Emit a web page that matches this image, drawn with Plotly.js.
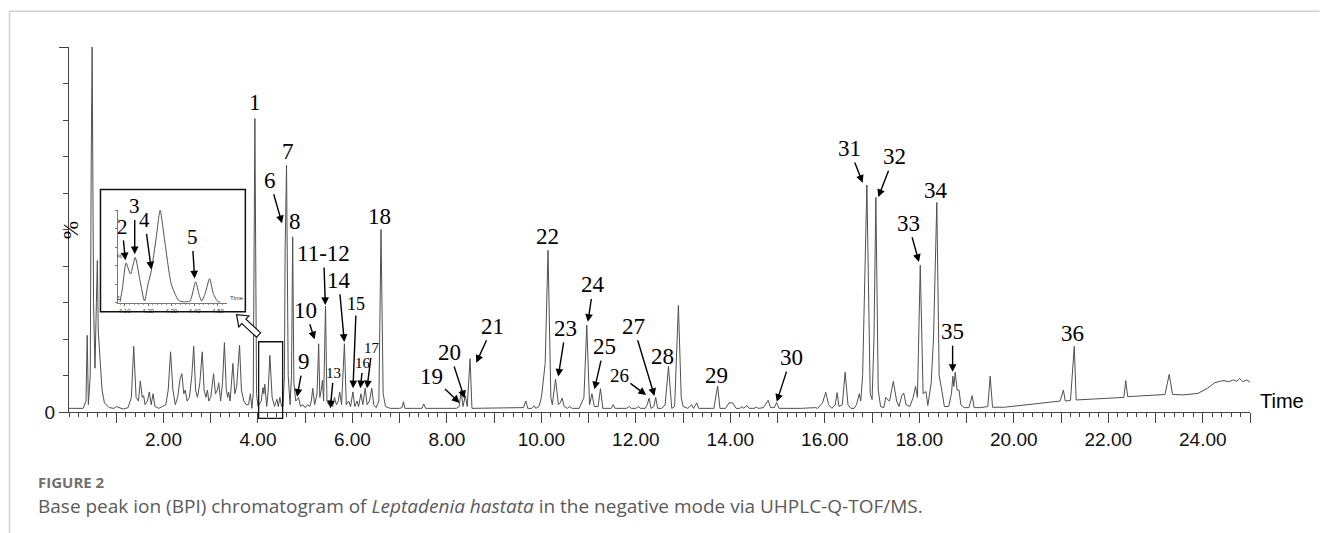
<!DOCTYPE html>
<html><head><meta charset="utf-8">
<script src="https://cdn.plot.ly/plotly-3.0.1.min.js"></script>
<style>html,body{margin:0;padding:0;background:#fff}#chart{width:1320px;height:533px}</style>
</head><body><div id="chart"></div>
<script>
// ---- data (time in min, intensity in %) ----
const retentionTime = [
0.00,0.30,0.36,0.385,0.41,0.45,0.47,0.49,0.52,0.55,0.58,0.60,0.62,0.64,0.66,0.70,0.75,0.85,0.95,1.00,1.05,1.15,1.25,
1.32,1.37,1.42,1.47,1.51,1.55,1.58,1.61,1.66,1.70,1.74,1.78,1.82,1.90,2.05,2.10,2.15,2.20,2.25,2.30,2.35,2.39,2.43,
2.46,2.50,2.55,2.60,2.64,2.68,2.72,2.77,2.82,2.86,2.90,2.93,2.96,3.00,3.06,3.10,3.14,3.17,3.21,3.25,3.29,3.33,3.36,
3.38,3.41,3.44,3.47,3.51,3.55,3.61,3.65,3.70,3.75,3.80,3.84,3.87,3.90,3.935,3.97,4.00,4.03,4.07,4.106,4.125,4.145,
4.185,4.214,4.252,4.30,4.35,4.40,4.43,4.464,4.50,4.53,4.56,4.575,4.605,4.64,4.68,4.71,4.735,4.76,4.80,4.86,4.90,
4.95,5.00,5.05,5.10,5.13,5.16,5.20,5.25,5.285,5.31,5.34,5.365,5.39,5.43,5.46,5.50,5.55,5.58,5.62,5.66,5.70,5.73,
5.77,5.83,5.87,5.92,5.96,6.01,6.05,6.10,6.13,6.18,6.22,6.27,6.31,6.36,6.41,6.45,6.50,6.56,6.605,6.65,6.70,6.80,
7.00,7.05,7.08,7.11,7.30,7.47,7.51,7.55,8.00,8.20,8.26,8.30,8.34,8.39,8.43,8.49,8.53,9.00,9.50,9.62,9.67,9.71,9.80,
9.85,9.88,9.95,10.00,10.03,10.08,10.14,10.20,10.23,10.30,10.36,10.40,10.44,10.48,10.55,10.60,10.65,10.80,10.90,
10.96,11.02,11.07,11.12,11.20,11.25,11.30,11.48,11.52,11.56,11.80,11.86,11.90,12.00,12.05,12.10,12.20,12.24,12.28,
12.32,12.38,12.42,12.46,12.55,12.62,12.69,12.76,12.82,12.90,12.96,13.00,13.10,13.18,13.22,13.29,13.33,13.65,13.73,
13.78,13.90,13.97,14.05,14.12,14.20,14.25,14.28,14.35,14.40,14.50,14.55,14.60,14.70,14.80,14.85,14.93,14.98,15.03,
15.50,15.80,15.85,15.95,16.02,16.08,16.15,16.22,16.26,16.30,16.37,16.43,16.49,16.55,16.62,16.67,16.73,16.76,16.80,
16.89,16.96,17.00,17.04,17.08,17.13,17.18,17.25,17.29,17.32,17.37,17.45,17.52,17.57,17.63,17.67,17.72,17.80,17.87,
17.92,17.96,18.02,18.08,18.14,18.18,18.25,18.30,18.37,18.42,18.48,18.53,18.62,18.68,18.71,18.73,18.76,18.80,18.84,
18.88,18.95,19.05,19.12,19.16,19.30,19.45,19.50,19.55,19.80,20.30,20.80,20.98,21.05,21.09,21.20,21.28,21.32,21.70,
22.00,22.33,22.37,22.41,22.80,23.20,23.29,23.36,23.60,23.90,24.10,24.25,24.36,24.45,24.55,24.65,24.72,24.78,24.85,
24.93,25.00
];
const basePeakIntensity = [
1.0,1.0,3,21,2,10,68,100,30,12,30,41.5,22,17,14,6,2.5,1.2,1.0,1.5,1.2,0.8,1.2,
4,18,4,3,8.5,4,4.5,2,3,5.5,2,5,1.5,1,2,6,16.5,6,2,4,9,10.5,5,
6,3,4,10,18,6,4,8,16.5,6,4,6,3,4,10.5,5,6,8,3,8,19,6,4,
5.5,3,8,13.3,5,7,18.3,6,3,2,2,5,1,5,80.4,5,1.5,2,3,6.7,5,7.6,
1.5,5.3,15.5,4,1.5,3.5,1.5,4.0,1.5,1.5,10,44,67.6,10,2,10,48,8,3,4,1.5,
2,1.2,2,1.5,3,6.5,2,5,18.7,4,6,8.7,3,29,3,2,3.5,1.5,4,2,3,5.5,
2,18.7,2,3,1.5,5.5,1.5,3,1.5,5,2,6.5,2,3,6.5,2,1.2,3,50,5,1.5,1,
1,1.2,2.8,1,1,1,2.2,1,1,1,1.5,6,1.5,4.5,1.5,14.6,1,1,1,1.2,3,1,1,
1.7,1,1.5,4,7.8,13.3,44.3,4,2,9,2,2.5,3.8,1.5,1,1.5,1,1,4,
23.8,2,5,1.5,1.5,6.4,1,1,2,1,1,1.5,1,1,1.5,1,1,2,3.8,
1,1.5,4,1,1,2,12.5,1,1.5,29.2,4,1.5,1,2,1,2.5,1,1,7.1,
1,1,2.5,2.5,1,1,1.5,1,1.8,1,1,1.3,1,1.2,3.2,1.2,1.2,2.6,1,
1,1.2,1,2.5,5.4,2,1,2,5.3,1.5,2,10.9,2,1,1,2,5,3,10,
62.2,5,3.4,20,58.8,6,1.5,1.2,4,3.5,3,8.4,3,1.5,4.5,5.2,2,1.5,4,
7,4,40.2,5,5.6,1.8,7.8,20,57.4,10,5.6,1.5,1.5,5,9.8,7,10.9,6,6,
2,1.2,1.2,4.5,1.2,1.2,1.5,9.8,1.3,1.3,2,2.6,3,6,3,3.2,18,3.3,3.6,
3.8,4,8.6,4.2,4.5,4.8,10.3,4.8,4.7,5.1,6.5,8.0,8.4,8.6,8.3,8.8,8.4,9.2,8.3,
8.8,8.2
];
// inset: zoom of 4.0-4.5 min (relative %)
const insetTime = [4.08,4.09,4.106,4.125,4.145,4.165,4.185,4.20,4.214,4.235,4.252,4.27,4.30,4.33,4.35,4.38,4.404,4.42,4.43,4.445,4.464,4.48,4.50,4.51];
const insetIntensity = [1,15,43,31,49,25,2,20,34.5,70,100,70,20,3,1,2,22.7,8,2,10,26,10,1,1];
// axis ticks
const majorTickVals = [1,2,3,4,5,6,7,8,9,10,11,12,13,14,15,16,17,18,19,20,21,22,23,24,25];
const majorTickText = ['','2.00','','4.00','','6.00','','8.00','','10.00','','12.00','','14.00','','16.00','','18.00','','20.00','','22.00','','24.00',''];
const insetTickVals = [4.1,4.2,4.3,4.4,4.5];
const insetTickText = ['4.10','4.20','4.30','4.40','4.50'];

// ---- layout helpers (pixel -> paper) ----
const L=68.5, R=1250.5, T=46.7, B=412;
const pxX = p => (p-L)/(R-L);
const pxY = p => (B-p)/(B-T);

const serif = 'Liberation Serif, Times New Roman, serif';
const narrow = 'Liberation Sans Narrow, Arial Narrow, Liberation Sans, Arial, sans-serif';

// peak labels: [text, textX, textY, headX, headY, size]
const peakLabels = [
 ['1',3.945,84.9,null,null,23],
 ['7',4.629,71.3,null,null,23],
 ['6',4.248,63.5,4.510,51.7,23],
 ['8',4.777,52.1,null,null,23],
 ['11-12',5.39,43.4,5.426,29.3,23],
 ['14',5.708,36.1,5.828,19.2,23],
 ['10',5.003,27.9,5.200,19.9,23],
 ['15',6.082,29.6,6.012,6.5,18],
 ['9',4.967,13.8,4.828,4.2,23],
 ['13',5.602,10.6,5.532,1.0,15],
 ['16',6.224,13.3,6.167,6.5,15],
 ['17',6.414,17.4,6.308,6.5,15],
 ['18',6.569,53.5,null,null,23],
 ['22',10.137,48.2,null,null,23],
 ['24',11.102,34.8,10.984,24.7,23],
 ['21',8.974,23.5,8.621,13.5,23],
 ['23',10.518,22.9,10.356,9.7,23],
 ['20',8.056,16.3,8.373,3.75,23],
 ['19',7.684,9.7,8.268,2.5,23],
 ['25',11.329,17.9,11.123,6.2,23],
 ['27',11.949,23.5,12.393,4.4,23],
 ['26',11.652,10.1,12.217,4.65,19],
 ['28',12.570,15.1,null,null,23],
 ['29',13.713,10.1,null,null,23],
 ['30',15.284,14.9,14.982,2.8,23],
 ['35',18.705,22.0,18.705,11.0,23],
 ['31',16.518,72.2,16.801,62.8,23],
 ['32',17.464,69.9,17.131,58.9,23],
 ['34',18.352,60.8,null,null,23],
 ['33',17.766,51.7,17.992,41.1,23],
 ['36',21.236,21.5,null,null,23]
];
const insetLabels = [
 ['2',4.089,82,4.103,46],
 ['3',4.143,104,4.143,52.5],
 ['4',4.186,89,4.214,36],
 ['5',4.389,70.5,4.400,26.3]
];

const annotations = [];
peakLabels.forEach(([t,x,y,hx,hy,s])=>{
  if(hx===null){
    annotations.push({text:t,x:x,y:y,xref:'x',yref:'y',showarrow:false,font:{family:serif,size:s,color:'#000'}});
  } else {
    annotations.push({text:t,x:hx,y:hy,ax:x,ay:y,axref:'x',ayref:'y',xref:'x',yref:'y',showarrow:true,
      arrowhead:2,arrowsize:1.1,arrowwidth:1.4,arrowcolor:'#000',standoff:0,font:{family:serif,size:s,color:'#000'}});
  }
});
insetLabels.forEach(([t,x,y,hx,hy])=>{
  annotations.push({text:t,x:hx,y:hy,ax:x,ay:y,axref:'x2',ayref:'y2',xref:'x2',yref:'y2',showarrow:true,
    arrowhead:2,arrowsize:1.1,arrowwidth:1.4,arrowcolor:'#000',standoff:0,font:{family:serif,size:21,color:'#000'}});
});
// axis texts
annotations.push({text:'%',x:pxX(55),y:pxY(230),xref:'paper',yref:'paper',showarrow:false,textangle:-90,font:{family:serif,size:22,color:'#000'}});
annotations.push({text:'Time',x:pxX(1259),y:pxY(414),xref:'paper',yref:'paper',xanchor:'left',showarrow:false,font:{family:narrow,size:20,color:'#000'}});
annotations.push({text:'Time',x:pxX(228),y:pxY(302.7),xref:'paper',yref:'paper',xanchor:'left',showarrow:false,font:{family:narrow,size:6,color:'#333'}});
annotations.push({text:'%',x:pxX(114.3),y:pxY(256),xref:'paper',yref:'paper',showarrow:false,font:{family:narrow,size:6,color:'#333'}});
annotations.push({text:'1',x:pxX(114.5),y:pxY(302.7),xref:'paper',yref:'paper',showarrow:false,font:{family:narrow,size:6,color:'#333'}});
// caption
annotations.push({text:'<b>FIGURE 2</b>',x:pxX(36),y:pxY(493),xref:'paper',yref:'paper',xanchor:'left',showarrow:false,borderpad:0,font:{family:'Open Sans, sans-serif',size:15,color:'#707070'}});
annotations.push({text:'Base peak ion (BPI) chromatogram of <i>Leptadenia hastata</i> in the negative mode via UHPLC-Q-TOF/MS.',x:pxX(36),y:pxY(520),xref:'paper',yref:'paper',xanchor:'left',showarrow:false,borderpad:0,font:{family:'Open Sans, sans-serif',size:19,color:'#5a5a5a'}});

// hollow block arrow (pixel geometry)
function blockArrow(tx,ty,hx,hy,sw,hw,hl){
  const dx=hx-tx, dy=hy-ty, len=Math.hypot(dx,dy), ux=dx/len, uy=dy/len, nx=-uy, ny=ux;
  const nkx=hx-ux*hl, nky=hy-uy*hl;
  const pts=[[tx+nx*sw,ty+ny*sw],[nkx+nx*sw,nky+ny*sw],[nkx+nx*hw,nky+ny*hw],[hx,hy],[nkx-nx*hw,nky-ny*hw],[nkx-nx*sw,nky-ny*sw],[tx-nx*sw,ty-ny*sw]];
  return 'M '+pts.map(p=>pxX(p[0]).toFixed(5)+','+pxY(p[1]).toFixed(5)).join(' L ')+' Z';
}

const shapes = [
  {type:'line',xref:'paper',yref:'paper',x0:pxX(9),x1:pxX(1320),y0:pxY(11),y1:pxY(11),line:{color:'#cfcfcf',width:1.5}},
  {type:'line',xref:'paper',yref:'paper',x0:pxX(9),x1:pxX(9),y0:pxY(11),y1:pxY(533),line:{color:'#cfcfcf',width:1.5}},
  {type:'rect',xref:'paper',yref:'paper',x0:pxX(100),x1:pxX(245),y0:pxY(311.7),y1:pxY(189.3),line:{color:'#111',width:1.5}},
  {type:'rect',xref:'paper',yref:'paper',x0:pxX(258.3),x1:pxX(282.3),y0:pxY(418.3),y1:pxY(341.7),line:{color:'#111',width:1.3}},
  {type:'path',xref:'paper',yref:'paper',path:blockArrow(258.3,335,236.2,314.5,3,7.5,10),line:{color:'#111',width:1.2},fillcolor:'rgba(255,255,255,1)'}
];

const traces = [
  {x:retentionTime,y:basePeakIntensity,type:'scatter',mode:'lines',line:{color:'#505050',width:1},xaxis:'x',yaxis:'y',hoverinfo:'skip'},
  {x:insetTime,y:insetIntensity,type:'scatter',mode:'lines',line:{color:'#505050',width:1,shape:'spline',smoothing:0.6},xaxis:'x2',yaxis:'y2',hoverinfo:'skip'}
];

const layout = {
  width:1320,height:533,
  margin:{l:L,r:1320-R,t:T,b:533-B,pad:0},
  paper_bgcolor:'#fff',plot_bgcolor:'rgba(0,0,0,0)',
  showlegend:false,
  xaxis:{range:[0,25],showgrid:false,zeroline:false,showline:true,linecolor:'#444',linewidth:1,
    tickmode:'array',tickvals:majorTickVals,ticktext:majorTickText,ticks:'outside',ticklen:10,tickcolor:'#444',tickwidth:1,
    tickfont:{family:narrow,size:19,color:'#111'},
    minor:{dtick:0.2,tick0:0,ticks:'outside',ticklen:4,tickcolor:'#444',tickwidth:1,showgrid:false}},
  yaxis:{range:[0,100],showgrid:false,zeroline:false,showline:true,linecolor:'#444',linewidth:1,
    tickmode:'array',tickvals:[0,100],ticktext:['0',''],ticks:'outside',ticklen:9,tickcolor:'#444',tickwidth:1,
    tickfont:{family:narrow,size:19,color:'#111'},
    minor:{dtick:10,tick0:0,ticks:'outside',ticklen:5,tickcolor:'#444',tickwidth:1,showgrid:false}},
  xaxis2:{domain:[pxX(117.7),pxX(226.7)],anchor:'y2',range:[4.072,4.539],showgrid:false,zeroline:false,showline:true,linecolor:'#555',linewidth:0.8,
    tickmode:'array',tickvals:insetTickVals,ticktext:insetTickText,ticks:'outside',ticklen:2,tickcolor:'#555',tickwidth:0.8,
    tickfont:{family:narrow,size:6,color:'#333'},
    minor:{dtick:0.02,tick0:4,ticks:'outside',ticklen:1.5,tickcolor:'#555',tickwidth:0.6,showgrid:false}},
  yaxis2:{domain:[pxY(302.7),pxY(210)],anchor:'x2',range:[0,100],showgrid:false,zeroline:false,showline:true,linecolor:'#555',linewidth:0.8,
    showticklabels:false,ticks:'outside',dtick:20,ticklen:2,tickcolor:'#555',tickwidth:0.8},
  annotations:annotations,
  shapes:shapes
};

Plotly.newPlot('chart',traces,layout,{staticPlot:true,displayModeBar:false});
</script>
</body></html>
